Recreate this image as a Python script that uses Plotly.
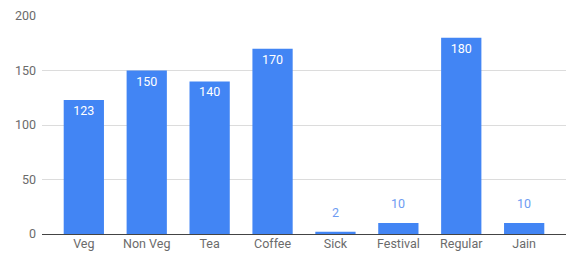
import plotly.graph_objects as go

categories = ["Veg", "Non Veg", "Tea", "Coffee", "Sick", "Festival", "Regular", "Jain"]
values = [123, 150, 140, 170, 2, 10, 180, 10]
y_ticks = [0, 50, 100, 150, 200]

BAR = "#4285f4"
LABEL_OUT = "#6e9cf2"
threshold = 20

inside_text = [str(v) if v >= threshold else "" for v in values]

fig = go.Figure()
fig.add_trace(go.Bar(
    x=categories, y=values,
    marker=dict(color=BAR, line=dict(width=0)),
    text=inside_text,
    textposition="inside",
    insidetextanchor="end",
    textangle=0,
    constraintext="none",
    insidetextfont=dict(family="Roboto", size=12.5, color="white"),
    hoverinfo="skip",
))

for c, v in zip(categories, values):
    if v < threshold:
        fig.add_annotation(x=c, y=v, text=str(v), showarrow=False,
                           yanchor="bottom", yshift=10,
                           font=dict(family="Roboto", size=12.5, color=LABEL_OUT))

fig.update_layout(
    width=575, height=255,
    margin=dict(l=42, r=9, t=16, b=21, autoexpand=False),
    plot_bgcolor="white", paper_bgcolor="white",
    bargap=0.36,
    showlegend=False,
    font=dict(family="Roboto", size=12.5, color="#6b6b6b"),
)
fig.update_xaxes(
    range=[-0.665, 7.665], automargin=False,
    showgrid=False, showline=False, zeroline=False,
    ticks="", tickfont=dict(size=12.5, color="#6b6b6b"),
)
fig.update_yaxes(
    range=[0, 200], tickvals=y_ticks, automargin=False,
    showgrid=True, gridcolor="#dcdcdc", gridwidth=1,
    zeroline=True, zerolinecolor="#444444", zerolinewidth=1,
    showline=False, ticks="", ticklabelstandoff=5,
    tickfont=dict(size=12.5, color="#6b6b6b"),
)

fig.write_html("out.html", config={"displayModeBar": False},
               post_script="document.body.style.margin='0';")
